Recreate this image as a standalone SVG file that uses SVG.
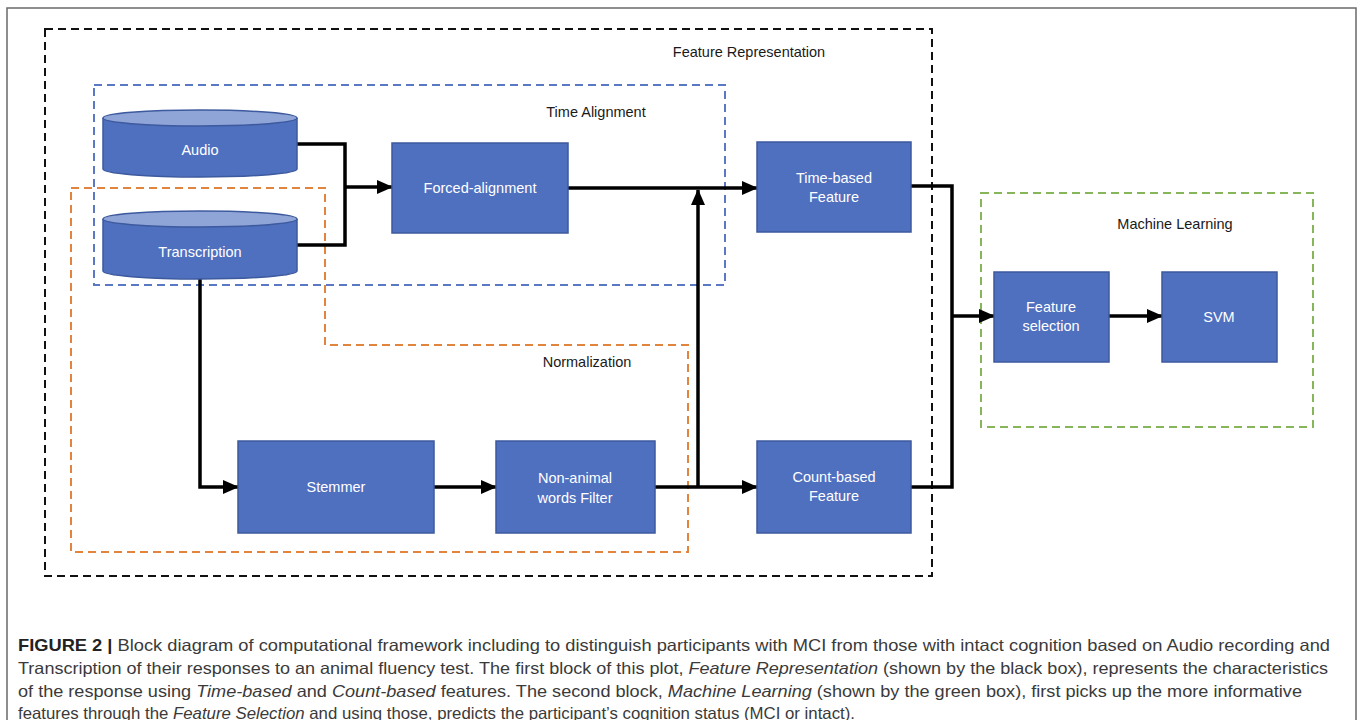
<svg xmlns="http://www.w3.org/2000/svg" width="1360" height="720" viewBox="0 0 1360 720">
<style>
.box{fill:#4f6fbf;stroke:#3d5a9e;stroke-width:1.5}
.cyl{fill:#4f6fbf;stroke:#3d5a9e;stroke-width:1.5}
.cyltop{fill:#8fa5d8;stroke:#3d5a9e;stroke-width:1.5}
.bt{font-family:"Liberation Sans",Arial,sans-serif;font-size:14.5px;fill:#ffffff;text-anchor:middle}
.lbl{font-family:"Liberation Sans",Arial,sans-serif;font-size:14.5px;fill:#1a1a1a;text-anchor:middle}
.grp{fill:none;stroke-width:2;stroke-dasharray:8 5}
.conn{fill:none;stroke:#000;stroke-width:3.5}
.cap{font-family:"Liberation Sans",Arial,sans-serif;font-size:16.5px;fill:#3a3a3a}
</style>
<defs>
<marker id="ah" markerUnits="userSpaceOnUse" markerWidth="16" markerHeight="14" refX="15" refY="7" orient="auto">
<path d="M0,0 L16,7 L0,14 z" fill="#000"/>
</marker>
</defs>
<rect x="0" y="0" width="1360" height="720" fill="#ffffff"/>
<path d="M7,730 V8 H1356 V730" fill="none" stroke="#6a6a6a" stroke-width="1.5"/>

<g id="groups">
<rect id="feature-representation" class="grp" x="45" y="29" width="887" height="547" stroke="#111"/>
<rect id="time-alignment" class="grp" x="94" y="85" width="631" height="200" stroke="#5b78c4"/>
<path id="normalization" class="grp" d="M71,188 H325 V345 H688 V552 H71 Z" stroke="#e0843e"/>
<rect id="machine-learning" class="grp" x="981" y="193" width="332" height="234" stroke="#86b55a"/>
<text class="lbl" x="749" y="57">Feature Representation</text>
<text class="lbl" x="596" y="117">Time Alignment</text>
<text class="lbl" x="587" y="367">Normalization</text>
<text class="lbl" x="1175" y="229">Machine Learning</text>
</g>

<g id="connectors">
<path class="conn" d="M297,144 H345 V245 H297"/>
<path class="conn" d="M345,187 H392" marker-end="url(#ah)"/>
<path class="conn" d="M568,188 H757" marker-end="url(#ah)"/>
<path class="conn" d="M698,487 V190" marker-end="url(#ah)"/>
<path class="conn" d="M200,278 V487 H238" marker-end="url(#ah)"/>
<path class="conn" d="M434,487 H496" marker-end="url(#ah)"/>
<path class="conn" d="M655,487 H757" marker-end="url(#ah)"/>
<path class="conn" d="M911,186 H952 V487 H911"/>
<path class="conn" d="M952,316 H994" marker-end="url(#ah)"/>
<path class="conn" d="M1109,316 H1162" marker-end="url(#ah)"/>
</g>

<g id="audio">
<path class="cyl" d="M103,118 V169 A97,8 0 0 0 297,169 V118"/>
<ellipse class="cyltop" cx="200" cy="118" rx="97" ry="8"/>
<text class="bt" x="200" y="155">Audio</text>
</g>
<g id="transcription">
<path class="cyl" d="M103,219 V271 A97,8 0 0 0 297,271 V219"/>
<ellipse class="cyltop" cx="200" cy="219" rx="97" ry="8"/>
<text class="bt" x="200" y="257">Transcription</text>
</g>
<g id="forced-alignment">
<rect class="box" x="392" y="143" width="176" height="90"/>
<text class="bt" x="480" y="193">Forced-alignment</text>
</g>
<g id="time-based">
<rect class="box" x="757" y="142" width="154" height="90"/>
<text class="bt" x="834" y="183">Time-based</text>
<text class="bt" x="834" y="202">Feature</text>
</g>
<g id="stemmer">
<rect class="box" x="238" y="441" width="196" height="92"/>
<text class="bt" x="336" y="492">Stemmer</text>
</g>
<g id="non-animal">
<rect class="box" x="496" y="441" width="159" height="92"/>
<text class="bt" x="575" y="483">Non-animal</text>
<text class="bt" x="575" y="503">words Filter</text>
</g>
<g id="count-based">
<rect class="box" x="757" y="441" width="154" height="92"/>
<text class="bt" x="834" y="482">Count-based</text>
<text class="bt" x="834" y="501">Feature</text>
</g>
<g id="feature-selection">
<rect class="box" x="994" y="272" width="115" height="90"/>
<text class="bt" x="1051" y="312">Feature</text>
<text class="bt" x="1051" y="331">selection</text>
</g>
<g id="svm">
<rect class="box" x="1162" y="272" width="115" height="90"/>
<text class="bt" x="1219" y="322">SVM</text>
</g>

<g id="caption">
<text class="cap" x="18" y="651" textLength="1312" lengthAdjust="spacingAndGlyphs"><tspan font-weight="bold" fill="#222">FIGURE 2 | </tspan>Block diagram of computational framework including to distinguish participants with MCI from those with intact cognition based on Audio recording and</text>
<text class="cap" x="18" y="674" textLength="1310" lengthAdjust="spacingAndGlyphs">Transcription of their responses to an animal fluency test. The first block of this plot, <tspan font-style="italic">Feature Representation</tspan> (shown by the black box), represents the characteristics</text>
<text class="cap" x="18" y="697" textLength="1284" lengthAdjust="spacingAndGlyphs">of the response using <tspan font-style="italic">Time-based</tspan> and <tspan font-style="italic">Count-based</tspan> features. The second block, <tspan font-style="italic">Machine Learning</tspan> (shown by the green box), first picks up the more informative</text>
<text class="cap" x="18" y="719" textLength="837" lengthAdjust="spacingAndGlyphs">features through the <tspan font-style="italic">Feature Selection</tspan> and using those, predicts the participant’s cognition status (MCI or intact).</text>
</g>
</svg>
